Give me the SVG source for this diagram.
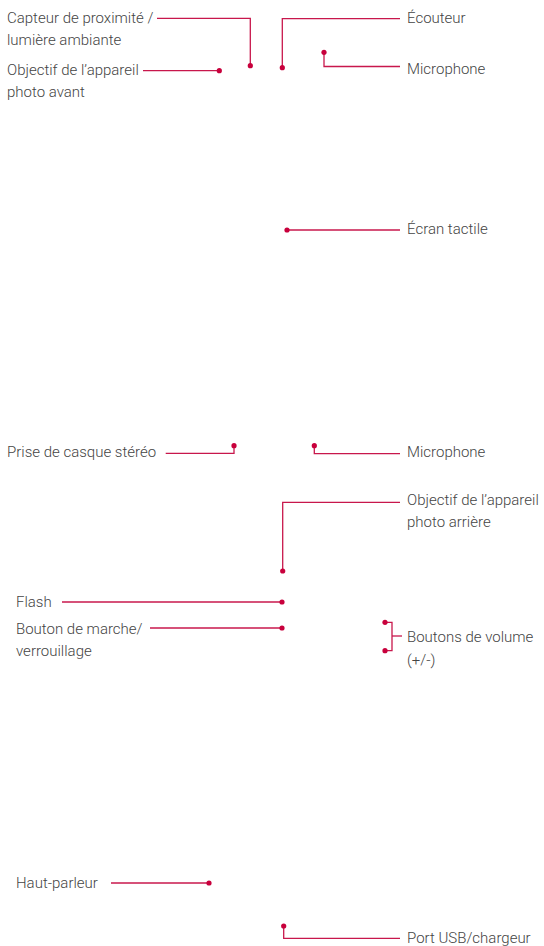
<svg xmlns="http://www.w3.org/2000/svg" width="544" height="946" viewBox="0 0 544 946">
<style>
text{font-family:Roboto,"Liberation Sans",Arial,sans-serif;font-weight:300;font-size:15px;fill:#444}
.c{fill:none;stroke:#c8174c;stroke-width:1.3}
.d{fill:#c8003c}
</style>
<rect width="544" height="946" fill="#fff"/>
<g id="connectors">
<polyline class="c" points="157,18.3 250.3,18.3 250.3,65.7"/>
<polyline class="c" points="143,70.7 219.3,70.7"/>
<polyline class="c" points="400,18.7 282.3,18.7 282.3,67.7"/>
<polyline class="c" points="324,52.3 324,66.5 400,66.5"/>
<polyline class="c" points="287,230 400,230"/>
<polyline class="c" points="165.7,453.3 234,453.3 234,445.7"/>
<polyline class="c" points="314.3,445.7 314.3,453.7 400,453.7"/>
<polyline class="c" points="400,502.3 282.7,502.3 282.7,571"/>
<polyline class="c" points="62,602 282,602"/>
<polyline class="c" points="150,628 282,628"/>
<polyline class="c" points="385,622.3 392,622.3 392,650.7 385,650.7"/>
<polyline class="c" points="392,636 402,636"/>
<polyline class="c" points="111,883 209,883"/>
<polyline class="c" points="283.7,926 283.7,938.3 400,938.3"/>
<circle class="d" cx="250.3" cy="65.7" r="2.6"/>
<circle class="d" cx="219.3" cy="70.7" r="2.6"/>
<circle class="d" cx="282.3" cy="67.7" r="2.6"/>
<circle class="d" cx="324" cy="52.3" r="2.6"/>
<circle class="d" cx="287" cy="230" r="2.6"/>
<circle class="d" cx="234" cy="445.7" r="2.6"/>
<circle class="d" cx="314.3" cy="445.7" r="2.6"/>
<circle class="d" cx="282.7" cy="571" r="2.6"/>
<circle class="d" cx="282" cy="602" r="2.6"/>
<circle class="d" cx="282" cy="628" r="2.6"/>
<circle class="d" cx="385" cy="622.3" r="2.6"/>
<circle class="d" cx="385" cy="650.7" r="2.6"/>
<circle class="d" cx="209" cy="883" r="2.6"/>
<circle class="d" cx="283.7" cy="926" r="2.6"/>
</g>
<g id="capteur"><text x="7" y="22.5">Capteur de proximité /</text><text x="7" y="45">lumière ambiante</text></g>
<g id="objectif-avant"><text x="7" y="75">Objectif de l’appareil</text><text x="7" y="97">photo avant</text></g>
<g id="ecouteur"><text x="407" y="22.5">Écouteur</text></g>
<g id="microphone-haut"><text x="407" y="73.5">Microphone</text></g>
<g id="ecran"><text x="407" y="233.5">Écran tactile</text></g>
<g id="prise"><text x="7" y="457">Prise de casque stéréo</text></g>
<g id="microphone-bas"><text x="407" y="457">Microphone</text></g>
<g id="objectif-arriere"><text x="407" y="505">Objectif de l’appareil</text><text x="407" y="527">photo arrière</text></g>
<g id="flash"><text x="16" y="607">Flash</text></g>
<g id="bouton"><text x="16" y="633.5">Bouton de marche/</text><text x="16" y="655.5">verrouillage</text></g>
<g id="volume"><text x="407" y="642">Boutons de volume</text><text x="407" y="664.5">(+/-)</text></g>
<g id="haut-parleur"><text x="16" y="887.5">Haut-parleur</text></g>
<g id="usb"><text x="407" y="943">Port USB/chargeur</text></g>
</svg>
